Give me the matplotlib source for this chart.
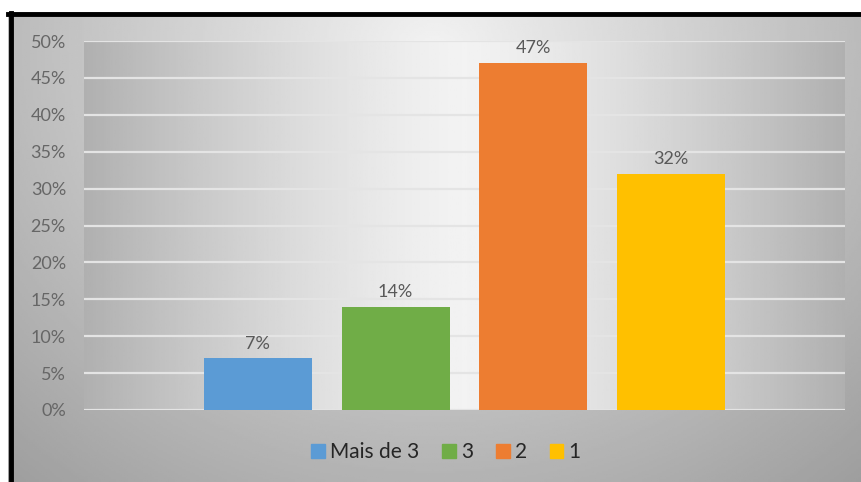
import numpy as np
import matplotlib
matplotlib.use('Agg')
import matplotlib.pyplot as plt
from matplotlib.lines import Line2D

plt.rcParams['font.family'] = ['Lato', 'DejaVu Sans']

# Dados (percentagem de respostas por série)
series = ['Mais de 3', '3', '2', '1']
valores = [7, 14, 47, 32]
cores = ['#5B9BD5', '#70AD47', '#ED7D31', '#FFC000']
yticks = [0, 5, 10, 15, 20, 25, 30, 35, 40, 45, 50]

W, H = 861, 482
fig = plt.figure(figsize=(W / 100, H / 100), dpi=100, facecolor='white')

# Fundo da área do gráfico: gradiente radial cinzento
bg = fig.add_axes([8 / W, 0, 1 - 8 / W, (H - 12) / H])
gx, gy = np.meshgrid(np.linspace(0, 1, 400), np.linspace(0, 1, 240))
d = np.sqrt(((gx - 0.5) / 0.62) ** 2 + ((gy - 0.92) / 1.0) ** 2)
bg.imshow(np.clip(0.95 - 0.27 * d, 0, 1), cmap='gray', vmin=0, vmax=1,
          extent=[0, 1, 0, 1], origin='lower', aspect='auto')
bg.set_xlim(0, 1)
bg.set_ylim(0, 1)
bg.axis('off')
# moldura preta (esquerda e topo)
bg.add_line(Line2D([0.003, 0.003], [0, 0.997], color='black', lw=3.5, clip_on=False))
bg.add_line(Line2D([0.0, 1.0], [0.996, 0.996], color='black', lw=3.5, clip_on=False))

# Área de plotagem
ax = fig.add_axes([84 / W, (H - 410) / H, 761 / W, 369 / H])
x0, x1 = -0.5, 0.5
px = np.linspace(0, 1, 400)
grad = 0.95 - 0.26 * np.abs(2 * px - 1) ** 1.3
ax.imshow(grad[np.newaxis, :], cmap='gray', vmin=0, vmax=1,
          extent=[x0, x1, 0, 50], aspect='auto', zorder=0)

for t in yticks:
    ax.axhline(t, color='#e4e4e4', lw=1.6, zorder=1)

passo = 0.181
largura = 0.142
pos = [(i - 1.5) * passo for i in range(len(valores))]
barras = ax.bar(pos, valores, width=largura, color=cores, zorder=2)

for xb, v in zip(pos, valores):
    ax.text(xb, v + 2.0, f'{v}%', ha='center', va='center',
            fontsize=13, color='#595959', zorder=3)

ax.set_xlim(x0, x1)
ax.set_ylim(0, 50)
ax.set_yticks(yticks)
ax.set_yticklabels([f'{t}%' for t in yticks], fontsize=13, color='#666666')
ax.tick_params(axis='y', length=0, pad=13)
ax.set_xticks([])
for s in ax.spines.values():
    s.set_visible(False)
ax.patch.set_alpha(0)

handles = [plt.Rectangle((0, 0), 1, 1, color=c) for c in cores]
fig.legend(handles, series, loc='center', bbox_to_anchor=(446 / W, 1 - 452 / H),
           ncol=4, frameon=False, fontsize=15, labelcolor='#262626',
           handlelength=0.65, handleheight=0.65, handletextpad=0.25, columnspacing=1.1)

fig.savefig('out.png', dpi=100, facecolor='white')
